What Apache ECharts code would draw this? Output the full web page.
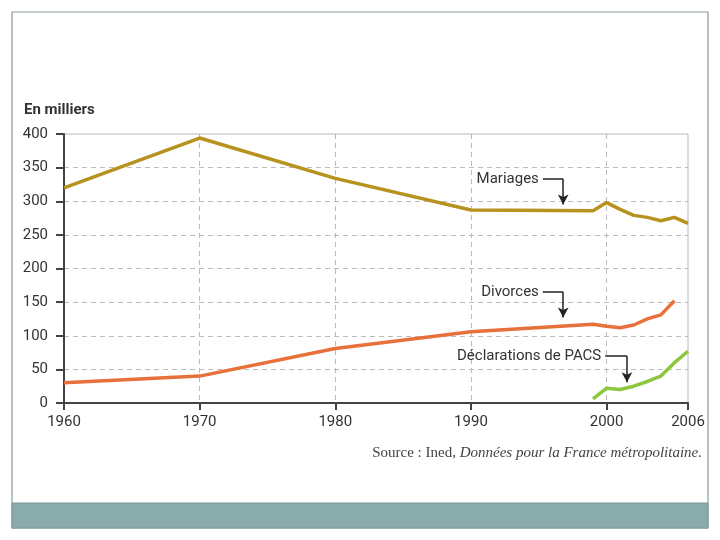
<!DOCTYPE html>
<html><head><meta charset="utf-8">
<script src="https://cdn.jsdelivr.net/npm/echarts@6/dist/echarts.min.js"></script>
<style>html,body{margin:0;padding:0;background:#fff}#c{width:720px;height:540px}</style>
</head><body><div id="c"></div>
<script>
const mariagesYears = [1960, 1970, 1980, 1990, 1999, 2000, 2001, 2002, 2003, 2004, 2005, 2006];
const mariagesValues = [320, 394, 334, 287, 286, 298, 288, 279, 276, 271, 276, 267];
const divorcesYears = [1960, 1970, 1980, 1990, 1999, 2000, 2001, 2002, 2003, 2004, 2005];
const divorcesValues = [30, 40, 81, 106, 117, 114, 112, 116, 125, 131, 152];
const pacsYears = [1999, 2000, 2001, 2002, 2003, 2004, 2005, 2006];
const pacsValues = [6, 22, 20, 25, 32, 40, 60, 77];
const yTicks = [0, 50, 100, 150, 200, 250, 300, 350, 400];
const xTicks = [1960, 1970, 1980, 1990, 2000, 2006];
const seriesNames = ['Mariages', 'Divorces', 'Déclarations de PACS'];

const pairs = (xs, vs) => xs.map((x, i) => [x, vs[i]]);
const font = 'Roboto, "Noto Sans", sans-serif';

function annot(name, x0, x1, yText, yTip) {
  return {
    markLine: {
      silent: true, animation: false, symbol: ['none', 'none'],
      lineStyle: { color: '#222', width: 1.5, type: 'solid' },
      label: { show: false },
      data: [
        [{ coord: [x0, yText] }, { coord: [x1, yText] }],
        [{ coord: [x1, yText] }, { coord: [x1, yTip], symbol: 'arrow', symbolSize: [8, 10] }]
      ]
    },
    markPoint: {
      silent: true, animation: false, symbol: 'circle', symbolSize: 0,
      data: [{ coord: [x0, yText], value: name }],
      label: { show: true, position: 'left', distance: 4, formatter: name, color: '#333', fontSize: 15, fontFamily: font }
    }
  };
}

const chart = echarts.init(document.getElementById('c'));
const colors = ['#b8921f', '#e8703a', '#8dc63f'];
const data = [pairs(mariagesYears, mariagesValues), pairs(divorcesYears, divorcesValues), pairs(pacsYears, pacsValues)];
const ann = [
  annot(seriesNames[0], 1995.3, 1996.8, 333, 295),
  annot(seriesNames[1], 1995.3, 1996.8, 165, 127),
  annot(seriesNames[2], 1999.9, 2001.5, 70, 31)
];

chart.setOption({
  animation: false,
  graphic: [
    { type: 'rect', shape: { x: 12, y: 12, width: 696, height: 516 }, style: { fill: 'none', stroke: '#8a9898', lineWidth: 1.2 }, z: -1 },
    { type: 'rect', shape: { x: 12, y: 503, width: 696, height: 25 }, style: { fill: '#8aabab', stroke: '#7f9a9a', lineWidth: 1 }, z: -1 },
    { type: 'text', left: 24, top: 103, style: { text: 'En milliers', font: 'bold 15px ' + font, fill: '#333' } },
    { type: 'text', right: 18, top: 446, style: {
        text: '{n|Source : Ined, }{i|Données pour la France métropolitaine.}',
        rich: {
          n: { fontFamily: '"Liberation Serif", "DejaVu Serif", serif', fontSize: 15, fill: '#444', color: '#444' },
          i: { fontFamily: '"Liberation Serif", "DejaVu Serif", serif', fontSize: 15, fontStyle: 'italic', fill: '#444', color: '#444' }
        } } }
  ],
  grid: { left: 64, right: 32, top: 134, bottom: 137, show: true, borderColor: '#bbb', borderWidth: 1 },
  xAxis: {
    type: 'value', min: xTicks[0], max: xTicks[xTicks.length - 1], interval: 10,
    axisLine: { show: true, lineStyle: { color: '#444', width: 2 } },
    axisTick: { show: true, length: 7, lineStyle: { color: '#444', width: 2 } },
    axisLabel: { color: '#333', fontSize: 15, fontFamily: font, margin: 12, showMaxLabel: true, formatter: v => String(v) },
    splitLine: { show: true, showMinLine: false, showMaxLine: false, lineStyle: { color: '#bbb', type: [5, 4], width: 1 } }
  },
  yAxis: {
    type: 'value', min: yTicks[0], max: yTicks[yTicks.length - 1], interval: 50,
    axisLine: { show: true, lineStyle: { color: '#444', width: 2 } },
    axisTick: { show: true, length: 8, lineStyle: { color: '#444', width: 2 } },
    axisLabel: { color: '#333', fontSize: 15, fontFamily: font, margin: 16 },
    splitLine: { show: true, showMinLine: false, showMaxLine: false, lineStyle: { color: '#bbb', type: [5, 4], width: 1 } }
  },
  series: seriesNames.map((n, i) => Object.assign({
    name: n, type: 'line', data: data[i], showSymbol: false, symbol: 'none',
    lineStyle: { color: colors[i], width: 3.5 }, itemStyle: { color: colors[i] }, z: 3
  }, ann[i]))
});
</script></body></html>
